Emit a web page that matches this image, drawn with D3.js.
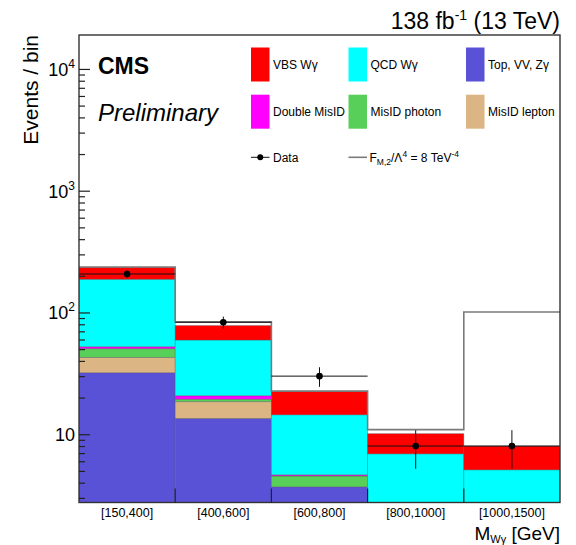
<!DOCTYPE html>
<html>
<head>
<meta charset="utf-8">
<script src="https://cdn.jsdelivr.net/npm/d3@7"></script>
<style>
  html, body { margin: 0; padding: 0; background: #fff; }
  svg { display: block; }
  text { font-family: "Liberation Sans", Arial, Helvetica, sans-serif; fill: #000; }
</style>
</head>
<body>
<svg id="chart" width="576" height="545"></svg>
<script>
// M(Wγ) bins
const bins = ["[150,400]", "[400,600]", "[600,800]", "[800,1000]", "[1000,1500]"];

// Expected yields per bin, stacked from the bottom up
const topVVZg     = [32.0, 13.5, 3.7, 1.5, 1.1];
const misIDLepton = [10.8, 5.0, 0.0, 0.3, 0.2];
const misIDPhoton = [7.6, 0.9, 0.84, 0.4, 0.2];
const doubleMisID = [1.9, 1.3, 0.1, 0.0, 0.0];
const qcdWg       = [135.2, 38.7, 9.8, 4.7, 3.6];
const vbsWg       = [47.5, 18.6, 8.0, 3.2, 2.9];

// Observed data with uncertainties
const dataValues = [207, 83, 30, 8, 8];
const dataErrUp  = [14.5, 9.5, 5.5, 2.8, 2.8];
const dataErrDn  = [14.5, 9.5, 5.5, 2.8, 2.8];

// aQGC signal hypothesis F_M,2/Λ^4 = 8 TeV^-4 (total prediction)
const signalFM2 = [236, 84, 22.6, 10.9, 101];

// Y axis ticks
const majorTicks = [10, 100, 1000, 10000];
const minorTicks = [3, 4, 5, 6, 7, 8, 9,
                    20, 30, 40, 50, 60, 70, 80, 90,
                    200, 300, 400, 500, 600, 700, 800, 900,
                    2000, 3000, 4000, 5000, 6000, 7000, 8000, 9000];
const majorLabels = [["10", ""], ["10", "2"], ["10", "3"], ["10", "4"]];

const processes = [
  { key: "topVVZg",     name: "Top, VV, Zγ",   color: "#5a52d6", values: topVVZg },
  { key: "misIDLepton", name: "MisID lepton",  color: "#dcb584", values: misIDLepton },
  { key: "misIDPhoton", name: "MisID photon",  color: "#58cf58", values: misIDPhoton },
  { key: "doubleMisID", name: "Double MisID",  color: "#ff00ff", values: doubleMisID },
  { key: "qcdWg",       name: "QCD Wγ",        color: "#00ffff", values: qcdWg },
  { key: "vbsWg",       name: "VBS Wγ",        color: "#ff0000", values: vbsWg }
];

const svg = d3.select("#chart");
const frame = { left: 79, right: 560, top: 35, bottom: 502.5 };

const x = d3.scaleBand().domain(bins).range([frame.left, frame.right]).padding(0);
const y = d3.scaleLog().domain([2.75, 19000]).range([frame.bottom, frame.top]);

svg.append("defs").append("clipPath").attr("id", "plotClip")
  .append("rect")
  .attr("x", frame.left).attr("y", frame.top)
  .attr("width", frame.right - frame.left).attr("height", frame.bottom - frame.top);

const plot = svg.append("g").attr("clip-path", "url(#plotClip)");

// Stack
const table = bins.map((b, i) => {
  const row = { bin: b };
  processes.forEach(p => { row[p.key] = p.values[i]; });
  return row;
});
const stacked = d3.stack().keys(processes.map(p => p.key))(table);

stacked.forEach((layer, li) => {
  plot.append("g")
    .selectAll("rect")
    .data(layer)
    .join("rect")
    .attr("x", d => x(d.data.bin))
    .attr("width", x.bandwidth())
    .attr("y", d => y(Math.max(d[1], 1e-3)))
    .attr("height", d => Math.max(0, y(Math.max(d[0], 1e-3)) - y(Math.max(d[1], 1e-3))))
    .attr("fill", processes[li].color)
    .attr("stroke", "rgba(90,90,90,0.55)")
    .attr("stroke-width", 0.7);
});

// Signal outline as a step histogram
const stepPts = [];
bins.forEach((b, i) => {
  stepPts.push([x(b), y(signalFM2[i])]);
  stepPts.push([x(b) + x.bandwidth(), y(signalFM2[i])]);
});
plot.append("path")
  .attr("d", d3.line()(stepPts))
  .attr("fill", "none")
  .attr("stroke", "#7a7a7a")
  .attr("stroke-width", 1.6);

// Data points with error bars
const dataG = plot.append("g");
bins.forEach((b, i) => {
  const cx = x(b) + x.bandwidth() / 2;
  dataG.append("line")
    .attr("x1", x(b)).attr("x2", x(b) + x.bandwidth())
    .attr("y1", y(dataValues[i])).attr("y2", y(dataValues[i]))
    .attr("stroke", "#111").attr("stroke-width", 1);
  dataG.append("line")
    .attr("x1", cx).attr("x2", cx)
    .attr("y1", y(dataValues[i] + dataErrUp[i])).attr("y2", y(dataValues[i] - dataErrDn[i]))
    .attr("stroke", "#111").attr("stroke-width", 1);
  dataG.append("circle")
    .attr("cx", cx).attr("cy", y(dataValues[i])).attr("r", 3.3)
    .attr("fill", "#000");
});

// Frame
svg.append("rect")
  .attr("x", frame.left).attr("y", frame.top)
  .attr("width", frame.right - frame.left).attr("height", frame.bottom - frame.top)
  .attr("fill", "none").attr("stroke", "#333").attr("stroke-width", 1.4);

// Y axis: ticks drawn inward
const yMinor = svg.append("g").attr("transform", `translate(${frame.left},0)`)
  .call(d3.axisLeft(y).tickValues(minorTicks).tickSize(-6).tickFormat(""));
const yMajor = svg.append("g").attr("transform", `translate(${frame.left},0)`)
  .call(d3.axisLeft(y).tickValues(majorTicks).tickSize(-11).tickPadding(4).tickFormat(""));
[yMinor, yMajor].forEach(g => {
  g.select(".domain").remove();
  g.selectAll(".tick line").attr("stroke", "#222").attr("stroke-width", 1.2);
});
yMajor.selectAll(".tick text").each(function(d, i) {
  const t = d3.select(this)
    .attr("font-size", 18).attr("dy", "0.35em").attr("x", -4)
    .attr("text-anchor", "end").attr("fill", "#000");
  t.append("tspan").text(majorLabels[i][0]);
  if (majorLabels[i][1]) {
    t.append("tspan").attr("font-size", 12).attr("dy", -8).text(majorLabels[i][1]);
  }
});

// X axis: labels under each bin, ticks on the bin edges
const xAxis = svg.append("g").attr("transform", `translate(0,${frame.bottom})`)
  .call(d3.axisBottom(x).tickSize(0).tickPadding(6));
xAxis.select(".domain").remove();
xAxis.selectAll(".tick text").attr("font-size", 12.5).attr("fill", "#000")
  .attr("font-family", "\"Liberation Sans\", Arial, sans-serif");
svg.append("g").selectAll("line")
  .data(bins.slice(1))
  .join("line")
  .attr("x1", d => x(d)).attr("x2", d => x(d))
  .attr("y1", frame.bottom).attr("y2", frame.bottom - 14)
  .attr("stroke", "#222").attr("stroke-width", 1.2);

// Axis titles
const xt = svg.append("text").attr("x", frame.right).attr("y", 539.5)
  .attr("text-anchor", "end").attr("font-size", 19);
xt.append("tspan").text("M");
xt.append("tspan").attr("font-size", 11).attr("dy", 3).text("Wγ");
xt.append("tspan").attr("dy", -3).text(" [GeV]");

svg.append("text")
  .attr("transform", `translate(38,${frame.top}) rotate(-90)`)
  .attr("text-anchor", "end").attr("font-size", 21)
  .text("Events / bin");

// Luminosity label
const lumi = svg.append("text").attr("x", frame.right).attr("y", 29)
  .attr("text-anchor", "end").attr("font-size", 23);
lumi.append("tspan").text("138 fb");
lumi.append("tspan").attr("font-size", 14).attr("dy", -9).text("-1");
lumi.append("tspan").attr("dy", 9).text(" (13 TeV)");

// CMS label
svg.append("text").attr("x", 98).attr("y", 74)
  .attr("font-size", 23).attr("font-weight", "bold").text("CMS");
svg.append("text").attr("x", 98).attr("y", 121)
  .attr("font-size", 24).attr("font-style", "italic").text("Preliminary");

// Legend
const legendOrder = ["vbsWg", "qcdWg", "topVVZg", "doubleMisID", "misIDPhoton", "misIDLepton"];
const colX = [251, 348.5, 466];
const rowY = [64.5, 111.7];
const legendFont = 12;
const legend = svg.append("g");
legendOrder.forEach((k, i) => {
  const p = processes.find(q => q.key === k);
  const cx = colX[i % 3], cy = rowY[Math.floor(i / 3)];
  legend.append("rect")
    .attr("x", cx).attr("y", cy - 17).attr("width", 18.5).attr("height", 34)
    .attr("fill", p.color);
  legend.append("text")
    .attr("x", cx + 22).attr("y", cy).attr("dy", "0.35em")
    .attr("font-size", legendFont).text(p.name);
});

const dataRowY = 157.3;
legend.append("line")
  .attr("x1", colX[0]).attr("x2", colX[0] + 18.5)
  .attr("y1", dataRowY).attr("y2", dataRowY)
  .attr("stroke", "#111").attr("stroke-width", 1);
legend.append("circle").attr("cx", colX[0] + 9.25).attr("cy", dataRowY).attr("r", 3)
  .attr("fill", "#000");
legend.append("text").attr("x", colX[0] + 22).attr("y", dataRowY).attr("dy", "0.35em")
  .attr("font-size", legendFont).text("Data");

legend.append("line")
  .attr("x1", colX[1]).attr("x2", colX[1] + 18.5)
  .attr("y1", dataRowY).attr("y2", dataRowY)
  .attr("stroke", "#7a7a7a").attr("stroke-width", 1.6);
const sigT = legend.append("text").attr("x", colX[1] + 21).attr("y", dataRowY).attr("dy", "0.35em")
  .attr("font-size", legendFont);
sigT.append("tspan").text("F");
sigT.append("tspan").attr("font-size", 8.5).attr("dy", 3).text("M,2");
sigT.append("tspan").attr("dy", -3).text("/Λ");
sigT.append("tspan").attr("font-size", 8.5).attr("dy", -5).text("4");
sigT.append("tspan").attr("dy", 5).text(" = 8 TeV");
sigT.append("tspan").attr("font-size", 8.5).attr("dy", -5).text("-4");
</script>
</body>
</html>
